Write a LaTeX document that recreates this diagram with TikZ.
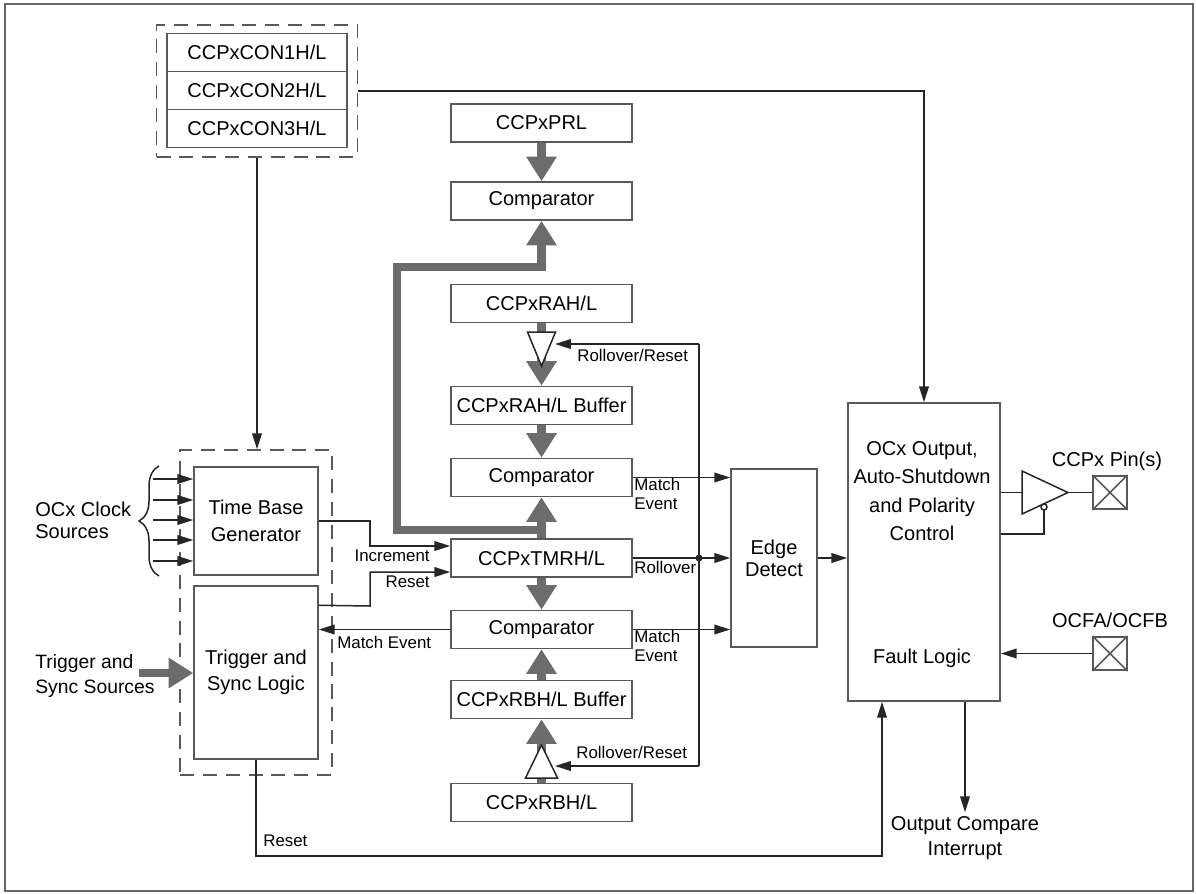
\documentclass[tikz,border=0pt]{standalone}
\usepackage{fontspec}
\setmainfont{Liberation Sans}
\usetikzlibrary{arrows.meta,calc,decorations.pathreplacing}

\definecolor{busgray}{RGB}{108,108,108}

\tikzset{
  reg/.style={draw=black!65, line width=0.9pt, fill=white, minimum width=3.62cm, minimum height=0.76cm,
    inner sep=0pt, font=\fontsize{11.4}{13.5}\selectfont},
  blk/.style={draw=black!65, line width=0.9pt, inner sep=0pt, align=center, font=\fontsize{11.4}{15}\selectfont},
  grp/.style={draw=black!65, line width=0.9pt, dash pattern=on 8pt off 5pt, inner sep=0pt},
  sig/.style={draw=black!85, line width=0.85pt},
  arr/.style={sig, -{Triangle[length=9pt,width=5.5pt]}},
  bus/.style={draw=busgray, line width=5pt, line join=miter},
  busarr/.style={bus, -{Triangle[length=14pt,width=16.5pt]}},
  lbl/.style={font=\fontsize{9.6}{10.3}\selectfont, inner sep=0pt, align=left},
  txt/.style={font=\fontsize{11.4}{14}\selectfont, inner sep=0pt, align=center},
  pinbox/.style={draw=black!65, line width=0.9pt, minimum size=0.67cm, inner sep=0pt},
}

\begin{document}
\begin{tikzpicture}[x=0.02cm, y=-0.02cm]
  \useasboundingbox (0,0) rectangle (1196,893);
  % cornice
  \draw[black!60, line width=1.3pt] (5,4) rectangle (1193,891);

  % registri di controllo
  \node[grp, minimum width=4.02cm, minimum height=2.64cm] (ctrl) at (257,91) {};
  \node[reg, minimum width=3.6cm] (con1) at (257,52.5) {CCPxCON1H/L};
  \node[reg, minimum width=3.6cm] (con2) at (257,90.5) {CCPxCON2H/L};
  \node[reg, minimum width=3.6cm] (con3) at (257,128.5) {CCPxCON3H/L};

  % colonna centrale
  \node[reg] (prl)    at (541.5,123)   {CCPxPRL};
  \node[reg] (cmpP)   at (541.5,201)   {Comparator};
  \node[reg] (rah)    at (541.5,303.5) {CCPxRAH/L};
  \node[reg] (rahbuf) at (541.5,405.5) {CCPxRAH/L Buffer};
  \node[reg] (cmpA)   at (541.5,477.5) {Comparator};
  \node[reg] (tmr)    at (541.5,558)   {CCPxTMRH/L};
  \node[reg] (cmpB)   at (541.5,629.5) {Comparator};
  \node[reg] (rbhbuf) at (541.5,699.5) {CCPxRBH/L Buffer};
  \node[reg] (rbh)    at (541.5,802.5) {CCPxRBH/L};

  % base dei tempi e trigger
  \node[grp, minimum width=3.04cm, minimum height=6.5cm] (tbgrp) at (256,612.5) {};
  \node[blk, minimum width=2.48cm, minimum height=2.16cm] (tbg) at (256,521) {Time Base\\Generator};
  \node[blk, minimum width=2.48cm, minimum height=3.46cm] (trig) at (256,672.5) {Trigger and\\Sync Logic};

  % edge detect e uscita
  \node[blk, minimum width=1.72cm, minimum height=3.56cm, font=\fontsize{11.4}{12.5}\selectfont] (edge) at (774,558) {Edge\\Detect};
  \node[blk, minimum width=3.04cm, minimum height=5.96cm] (ocx) at (924,552) {};
  \node[txt, font=\fontsize{11.4}{16.2}\selectfont] (ocxtxt) at (922,491) {OCx Output,\\Auto-Shutdown\\and Polarity\\Control};
  \node[txt] (fault) at (922,658) {Fault Logic};

  % pin
  \node[pinbox] (pin) at (1110,492.5) {};
  \draw[sig, black!65] (pin.north west) -- (pin.south east) (pin.south west) -- (pin.north east);
  \node[txt] (pinlbl) at (1107,461) {CCPx Pin(s)};
  \node[pinbox] (ocf) at (1110,653.5) {};
  \draw[sig, black!65] (ocf.north west) -- (ocf.south east) (ocf.south west) -- (ocf.north east);
  \node[txt] (ocflbl) at (1110,620) {OCFA/OCFB};

  % bus grigi
  \draw[busarr] (prl.south) -- (cmpP.north);
  \draw[busarr] (tmr.north) |- (397,530) |- (541.5,267) -- (cmpP.south);
  \draw[busarr] (rah.south) -- (rahbuf.north);
  \draw[busarr] (rahbuf.south) -- (cmpA.north);
  \draw[busarr] (tmr.north) -- (cmpA.south);
  \draw[busarr] (tmr.south) -- (cmpB.north);
  \draw[busarr] (rbhbuf.north) -- (cmpB.south);
  \draw[busarr] (rbh.north) -- (rbhbuf.south);

  % buffer triangolari
  \draw[sig, fill=white] (527.5,332) -- (555.5,332) -- (541.5,366) -- cycle;
  \draw[sig, fill=white] (525.5,778) -- (557.5,778) -- (541.5,745) -- cycle;
  \coordinate (rovA) at (699,344);
  \coordinate (rovB) at (699,766);
  \draw[sig] (rovA) -- (rovB);
  \draw[arr] (rovA) -- (555,344);
  \draw[arr] (rovB) -- (555,766);
  \node[lbl, anchor=west] (rovlblA) at (577,355) {Rollover/Reset};
  \node[lbl, anchor=west] (rovlblB) at (576,752) {Rollover/Reset};

  % segnali verso edge detect
  \draw[arr] (cmpA.east) -- (cmpA.east -| edge.west);
  \draw[arr] (tmr.east) -- (tmr.east -| edge.west);
  \draw[arr] (cmpB.east) -- (cmpB.east -| edge.west);
  \fill[black!85] (rovA |- tmr.east) circle[radius=0.07cm];
  \node[lbl, anchor=west] (mevA) at (634,494) {Match\\Event};
  \node[lbl, anchor=west] (rovr) at (634,567) {Rollover};
  \node[lbl, anchor=west] (mevB) at (634,646) {Match\\Event};
  \draw[arr] (edge.east) -- (ocx.west |- edge.east);

  % sorgenti clock
  \foreach \yy in {479,500,520,540,561}
    \draw[arr] (153,\yy) -- (tbg.west |- 0,\yy);
  \draw[sig, decorate, decoration={brace, amplitude=0.4cm}] (159,576) -- (159,466);
  \node[txt, align=left, anchor=west, font=\fontsize{11.4}{12.6}\selectfont] (clk) at (35,520) {OCx Clock\\Sources};

  % trigger esterno
  \node[txt, align=left, anchor=west, font=\fontsize{11}{14}\selectfont] (trgsrc) at (35,676) {Trigger and\\Sync Sources};
  \draw[busarr] (139,673) -- (trig.west |- 0,673);

  % increment / reset / match event
  \draw[arr] (tbg.east) -- (370,521) |- ($(tmr.west)+(0,-12)$);
  \draw[arr] ($(trig.north east)+(0,20)$) -- (370,606) |- ($(tmr.west)+(0,14)$);
  \draw[arr] (cmpB.west) -- (cmpB.west -| trig.east);
  \node[lbl, anchor=east] (inc) at (430,556) {Increment};
  \node[lbl, anchor=east] (rst) at (430,582) {Reset};
  \node[lbl, anchor=west] (mev) at (337,642) {Match Event};

  % controllo -> uscita, controllo -> base tempi
  \draw[arr] (ctrl.east) -| (ocx.north);
  \draw[arr] (ctrl.south) -- (ctrl.south |- tbgrp.north);

  % driver di uscita
  \draw[sig, fill=white] (1022,471) -- (1068,492.5) -- (1022,514) -- cycle;
  \coordinate (drvin) at (1022,492.5);
  \coordinate (drvout) at (1068,492.5);
  \coordinate (drven) at (1044,510);
  \draw[sig] (1044,507) circle[radius=0.06cm];
  \draw[sig] (ocx.east |- drvin) -- (drvin);
  \draw[sig] (drvout) -- (pin.west);
  \draw[sig] (drven) |- ($(ocx.east)+(0,-18)$);
  \draw[arr] (ocf.west) -- (ocf.west -| ocx.east);

  % reset globale e interrupt
  \coordinate (rstc) at (882,856);
  \draw[arr] (trig.south) |- (rstc) -- (rstc |- ocx.south);
  \node[lbl, anchor=west] (rstlbl) at (263,841) {Reset};
  \node[txt] (irq) at (965,838) {Output Compare\\Interrupt};
  \draw[arr] (ocx.south -| irq.north) -- ($(irq.north)+(0,-4)$);
\end{tikzpicture}
\end{document}
